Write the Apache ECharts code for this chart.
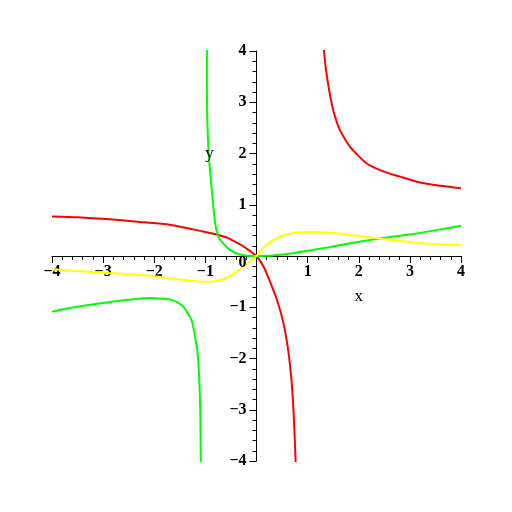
<!DOCTYPE html>
<html><head><meta charset="utf-8">
<script src="https://cdn.jsdelivr.net/npm/echarts@6/dist/echarts.min.js"></script>
<style>html,body{margin:0;padding:0;background:#fff}#c{width:512px;height:512px}</style>
</head><body><div id="c"></div>
<script>
var xTicks = [-4, -3, -2, -1, 0, 1, 2, 3, 4];
var yTicks = [-4, -3, -2, -1, 0, 1, 2, 3, 4];
var redLeft = [[-4.0,0.77],[-3.5,0.755],[-2.93,0.72],[-2.34,0.67],[-1.75,0.62],[-1.49,0.57],[-1.30,0.53],[-1.10,0.49],[-0.91,0.45],[-0.78,0.42],[-0.55,0.35],[-0.39,0.26],[-0.29,0.21],[-0.16,0.12],[0,0],[0.14,-0.21],[0.264,-0.50],[0.39,-0.83],[0.52,-1.28],[0.62,-1.84],[0.69,-2.49],[0.73,-3.14],[0.765,-4.0],[0.78,-4.4]];
var redRight = [[1.30,4.3],[1.32,4.0],[1.36,3.63],[1.42,3.24],[1.50,2.85],[1.63,2.46],[1.83,2.13],[2.15,1.81],[2.48,1.65],[2.80,1.55],[3.13,1.45],[3.45,1.39],[4.0,1.32]];
var greenLeft = [[-4.0,-1.09],[-3.84,-1.05],[-2.8,-0.89],[-2.08,-0.82],[-1.69,-0.85],[-1.56,-0.90],[-1.43,-0.99],[-1.27,-1.25],[-1.20,-1.58],[-1.14,-2.03],[-1.10,-3.0],[-1.09,-4.0],[-1.09,-4.4]];
var greenRight = [[-0.97,4.4],[-0.97,4.0],[-0.97,3.24],[-0.94,2.07],[-0.875,1.29],[-0.81,0.65],[-0.75,0.38],[-0.68,0.28],[-0.52,0.12],[-0.32,0.03],[0,0],[0.52,0.03],[1.18,0.13],[1.83,0.25],[2.48,0.35],[3.13,0.44],[3.55,0.51],[4.0,0.59]];
var yellow = [[-4.0,-0.26],[-2.93,-0.33],[-1.95,-0.40],[-1.4,-0.47],[-1.1,-0.50],[-0.8,-0.49],[-0.55,-0.41],[-0.35,-0.28],[-0.16,-0.13],[0,0],[0.17,0.20],[0.38,0.34],[0.55,0.41],[0.8,0.46],[1.1,0.47],[1.5,0.45],[1.83,0.41],[2.48,0.33],[3.13,0.26],[4.0,0.21]];
var axisNames = {x: [2.0, -0.8], y: [-0.92, 2.0]};
var originLabel = '0';

var font = 'Liberation Serif';
var W = 512, H = 512, gl = 52, gr = 51, gt = 51, gb = 51;
// axes cross at the origin: shift each axis from its grid edge to the zero line
var xOff = -(H - gt - gb) * (0 - yTicks[0]) / (yTicks[yTicks.length-1] - yTicks[0]);
var yOff = -(W - gl - gr) * (0 - xTicks[0]) / (xTicks[xTicks.length-1] - xTicks[0]);
function fmt(v){ return String(v).replace('-', '\u2212'); }
var chart = echarts.init(document.getElementById('c'));
function line(data, color){
  return {type:'line', data:data, showSymbol:false, symbol:'none', smooth:0.2, clip:true,
    lineStyle:{color:color, width:2}, itemStyle:{color:color}, animation:false, z:3};
}
chart.setOption({
  animation:false,
  backgroundColor:'#fff',
  grid:{left:gl, right:gr, top:gt, bottom:gb},
  xAxis:{type:'value', position:'bottom', offset:xOff, min:xTicks[0], max:xTicks[xTicks.length-1], interval:1,
    axisLine:{onZero:false, lineStyle:{color:'#000', width:1}},
    axisTick:{length:7, lineStyle:{color:'#000'}},
    minorTick:{show:true, splitNumber:5, length:4, lineStyle:{color:'#000'}},
    splitLine:{show:false},
    axisLabel:{margin:8, color:'#000', fontFamily:font, fontSize:16, fontWeight:'bold',
      formatter:function(v){ return v===0 ? '' : fmt(v); }}},
  yAxis:{type:'value', position:'left', offset:yOff, min:yTicks[0], max:yTicks[yTicks.length-1], interval:1,
    axisLine:{onZero:false, lineStyle:{color:'#000', width:1}},
    axisTick:{length:7, lineStyle:{color:'#000'}},
    minorTick:{show:true, splitNumber:5, length:4, lineStyle:{color:'#000'}},
    splitLine:{show:false},
    axisLabel:{margin:10, color:'#000', fontFamily:font, fontSize:16, fontWeight:'bold',
      formatter:function(v){ return v===0 ? '' : fmt(v); }}},
  series:[line(redLeft,'#ff0000'), line(redRight,'#ff0000'), line(greenLeft,'#00ff00'), line(greenRight,'#00ff00'), line(yellow,'#ffff00')]
});
var px = chart.convertToPixel({gridIndex:0}, axisNames.x);
var py = chart.convertToPixel({gridIndex:0}, axisNames.y);
var po = chart.convertToPixel({gridIndex:0}, [0, 0]);
chart.setOption({graphic:[
  {type:'text', x:px[0], y:px[1], style:{text:'x', fontFamily:font, fontSize:17, fill:'#000', align:'center', verticalAlign:'middle'}, z:10},
  {type:'text', x:py[0], y:py[1], style:{text:'y', fontFamily:font, fontSize:17, fill:'#000', align:'center', verticalAlign:'middle'}, z:10},
  {type:'text', x:po[0]-10, y:po[1]+7, style:{text:originLabel, fontFamily:font, fontSize:16, fontWeight:'bold', fill:'#000', align:'right', verticalAlign:'middle'}, z:10}
]});
</script></body></html>
